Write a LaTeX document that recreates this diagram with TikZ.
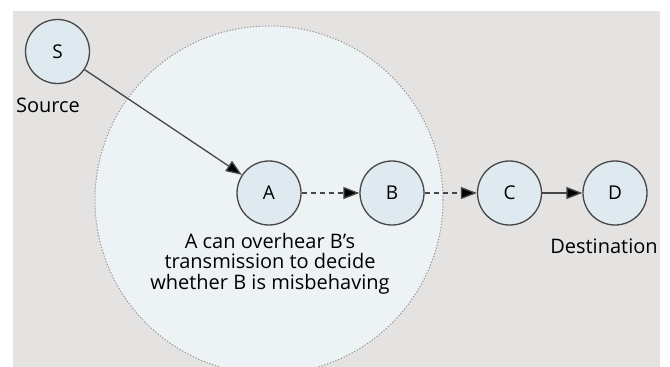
\documentclass[tikz,border=0pt]{standalone}
\usepackage{fontspec}
\setmainfont{Open Sans}
\usetikzlibrary{arrows.meta}
\definecolor{panelgrey}{RGB}{228,227,225}
\definecolor{rangefill}{RGB}{237,242,245}
\definecolor{nodefill}{RGB}{222,233,240}
\definecolor{edgegrey}{RGB}{70,70,70}
\definecolor{rimgrey}{RGB}{150,150,150}
\tikzset{
  host/.style={circle, draw=edgegrey, line width=1.3pt, fill=nodefill,
    minimum size=64pt, inner sep=0pt, font=\fontsize{19}{19}\selectfont},
  lbl/.style={font=\fontsize{20}{20}\selectfont, inner sep=0pt, anchor=base},
  link/.style={draw=edgegrey, line width=1.3pt,
    -{Triangle[length=16pt, width=12pt, fill=black]}},
  dlink/.style={link, dash pattern=on 5pt off 4pt},
}
\begin{document}
\begin{tikzpicture}[x=1pt, y=-1pt]
  \useasboundingbox (0,0) rectangle (670,367);
  % grey panel
  \fill[panelgrey] (13,11) rectangle (660,367);
  % overhearing range of A
  \begin{scope}
    \clip (13,11) rectangle (660,367);
    \fill[rangefill] (269,200) circle[radius=174];
    \draw[rimgrey, line width=1pt, dash pattern=on 1.3pt off 1.7pt] (269,200) circle[radius=174];
  \end{scope}
  % hosts
  \node[host] (S) at (57.5,51.5) {S};
  \node[host] (A) at (269,193) {A};
  \node[host] (B) at (392,193) {B};
  \node[host] (C) at (509.5,193) {C};
  \node[host] (D) at (615,193) {D};
  % labels
  \node[lbl] (src) at (48,112) {Source};
  \node[lbl] (dst) at (604,253) {Destination};
  \node[lbl] (n1) at (270,248) {A can overhear B’s};
  \node[lbl] (n2) at (270,268.5) {transmission to decide};
  \node[lbl] (n3) at (270,289) {whether B is misbehaving};
  % links
  \draw[link] (S) -- (A);
  \draw[dlink] (A) -- (B);
  \draw[dlink] (B) -- (C);
  \draw[link] (C) -- (D);
\end{tikzpicture}
\end{document}
